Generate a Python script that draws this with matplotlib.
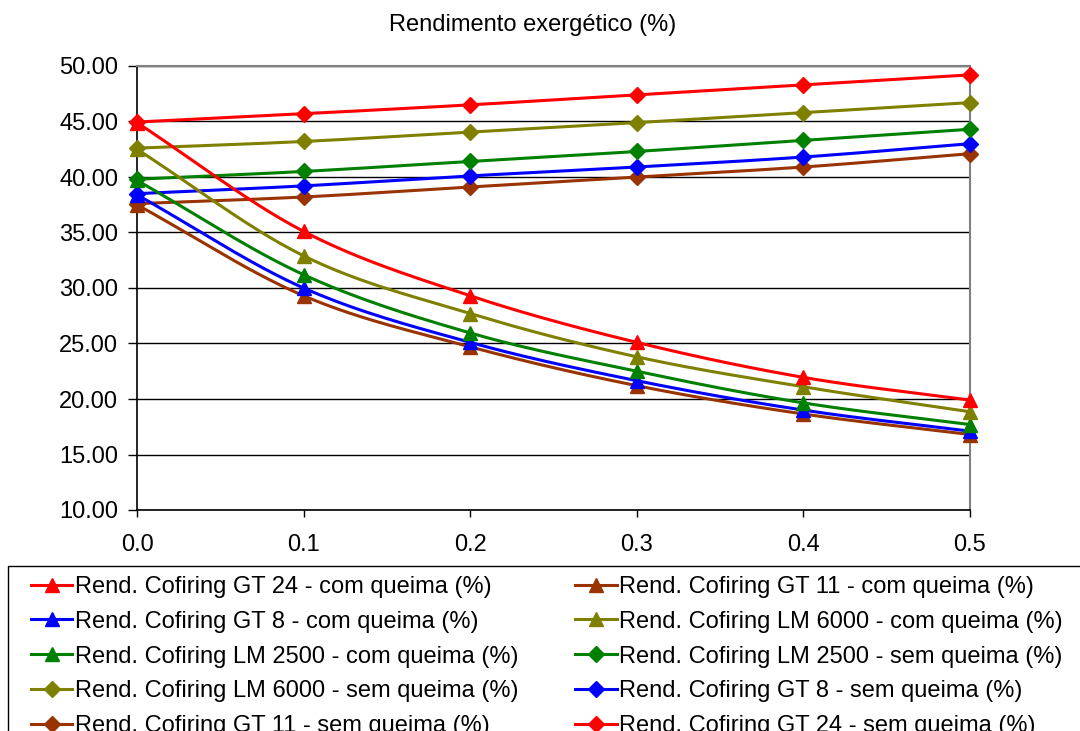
import numpy as np
import matplotlib
matplotlib.use("Agg")
import matplotlib.pyplot as plt
from matplotlib.lines import Line2D
from matplotlib.patches import Rectangle

plt.rcParams['font.family'] = ['Liberation Sans', 'DejaVu Sans']

x = [0.0, 0.1, 0.2, 0.3, 0.4, 0.5]

# com queima (triangulos)
gt24_com = [44.9, 35.1, 29.3, 25.1, 21.95, 19.9]
gt11_com = [37.5, 29.3, 24.7, 21.2, 18.65, 16.8]
gt8_com = [38.4, 30.0, 25.1, 21.65, 19.0, 17.1]
lm6000_com = [42.5, 32.9, 27.7, 23.8, 21.1, 18.85]
lm2500_com = [39.7, 31.2, 25.95, 22.5, 19.65, 17.7]

# sem queima (losangos)
lm2500_sem = [39.8, 40.5, 41.4, 42.3, 43.3, 44.3]
lm6000_sem = [42.6, 43.2, 44.05, 44.9, 45.8, 46.7]
gt8_sem = [38.5, 39.2, 40.1, 40.9, 41.8, 43.0]
gt11_sem = [37.6, 38.2, 39.1, 40.0, 40.9, 42.1]
gt24_sem = [44.95, 45.7, 46.5, 47.4, 48.3, 49.2]

RED = '#ff0000'
BROWN = '#993300'
BLUE = '#0000ff'
OLIVE = '#808000'
GREEN = '#008000'


def smooth(xs, ys, n=30):
    # curva suave tipo Excel (Catmull-Rom)
    xs = np.asarray(xs, float)
    ys = np.asarray(ys, float)
    px = np.concatenate([[2 * xs[0] - xs[1]], xs, [2 * xs[-1] - xs[-2]]])
    py = np.concatenate([[2 * ys[0] - ys[1]], ys, [2 * ys[-1] - ys[-2]]])
    ox, oy = [], []
    t = np.linspace(0, 1, n)
    for i in range(1, len(px) - 2):
        for arr, out in ((px, ox), (py, oy)):
            p0, p1, p2, p3 = arr[i - 1], arr[i], arr[i + 1], arr[i + 2]
            out.extend(0.5 * ((2 * p1) + (-p0 + p2) * t
                              + (2 * p0 - 5 * p1 + 4 * p2 - p3) * t ** 2
                              + (-p0 + 3 * p1 - 3 * p2 + p3) * t ** 3))
    return np.array(ox), np.array(oy)


series = [
    ('Rend. Cofiring GT 24 - com queima (%)', gt24_com, RED, '^'),
    ('Rend. Cofiring GT 8 - com queima (%)', gt8_com, BLUE, '^'),
    ('Rend. Cofiring LM 2500 - com queima (%)', lm2500_com, GREEN, '^'),
    ('Rend. Cofiring LM 6000 - sem queima (%)', lm6000_sem, OLIVE, 'D'),
    ('Rend. Cofiring GT 11 - sem queima (%)', gt11_sem, BROWN, 'D'),
    ('Rend. Cofiring GT 11 - com queima (%)', gt11_com, BROWN, '^'),
    ('Rend. Cofiring LM 6000 - com queima (%)', lm6000_com, OLIVE, '^'),
    ('Rend. Cofiring LM 2500 - sem queima (%)', lm2500_sem, GREEN, 'D'),
    ('Rend. Cofiring GT 8 - sem queima (%)', gt8_sem, BLUE, 'D'),
    ('Rend. Cofiring GT 24 - sem queima (%)', gt24_sem, RED, 'D'),
]

FS = 17

fig = plt.figure(figsize=(10.8, 7.31), dpi=100)
ax = fig.add_axes([137 / 1080, 1 - 510 / 731, (970 - 137) / 1080, (510 - 66) / 731])

# ordem de desenho: sem queima por baixo
draw_order = [4, 8, 7, 3, 9, 5, 1, 2, 6, 0]
for i in draw_order:
    label, ys, c, m = series[i]
    sx, sy = smooth(x, ys)
    ax.plot(sx, sy, color=c, lw=2.2, zorder=3, clip_on=False)
    ms = 10 if m == '^' else 8.5
    ax.plot(x, ys, ls='none', marker=m, color=c, ms=ms, zorder=4, clip_on=False)

handles = []
for label, ys, c, m in series:
    ms = 10 if m == '^' else 8.5
    handles.append(Line2D([], [], color=c, lw=2.2, marker=m, ms=ms, label=label))

ax.set_xlim(0, 0.5)
ax.set_ylim(10, 50)
ax.set_xticks(x)
ax.set_xticklabels([f'{v:.1f}' for v in x])
yt = np.arange(10, 51, 5)
ax.set_yticks(yt)
ax.set_yticklabels([f'{v:.2f}' for v in yt])
ax.tick_params(axis='both', labelsize=FS, color='black', width=1, direction='out')
ax.tick_params(axis='x', length=5, pad=12)
ax.tick_params(axis='y', length=6.5, pad=7)
ax.yaxis.grid(True, color='black', lw=1)
ax.set_axisbelow(True)
for s in ('top', 'right'):
    ax.spines[s].set_color('#808080')
    ax.spines[s].set_linewidth(1.5)
for s in ('left', 'bottom'):
    ax.spines[s].set_color('black')
    ax.spines[s].set_linewidth(1.2)

fig.text(533 / 1080, 1 - 25 / 731, 'Rendimento exergético (%)', ha='center', va='center', fontsize=FS)

# moldura da legenda (sai pela borda da figura)
fig.patches.append(Rectangle((8 / 1080, -0.05), 1.1, 1 - 566 / 731 + 0.05,
                             transform=fig.transFigure, fill=False,
                             edgecolor='black', lw=1.0))

leg = fig.legend(handles=handles, ncol=2, loc='upper left',
                 bbox_to_anchor=(31 / 1080, 1 - 576 / 731), fontsize=FS,
                 frameon=False, handlelength=1.75, handletextpad=0.12,
                 columnspacing=2.4, labelspacing=0.54, borderpad=0,
                 borderaxespad=0)

fig.savefig('out.png', dpi=100)
